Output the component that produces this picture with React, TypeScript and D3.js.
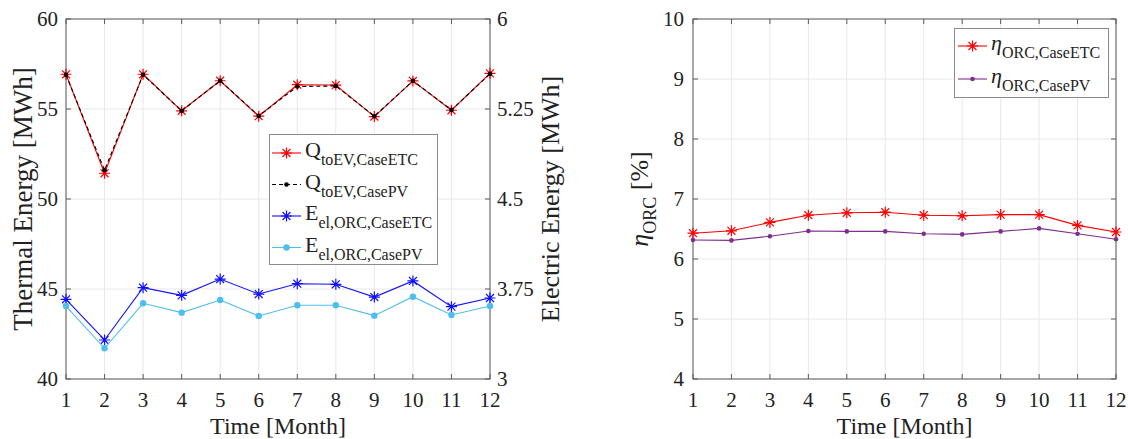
import React from 'react';
import * as d3 from 'd3';

// months on the x axis
const months = [1, 2, 3, 4, 5, 6, 7, 8, 9, 10, 11, 12];

// left panel, thermal energy to evaporator [MWh]
const qEtc = [56.93, 51.43, 56.93, 54.9, 56.57, 54.6, 56.35, 56.33, 54.58, 56.56, 54.93, 56.98];
const qPv = [56.9, 51.6, 56.9, 54.9, 56.57, 54.62, 56.25, 56.28, 54.6, 56.56, 54.95, 56.95];

// left panel, electric energy of the ORC [MWh]
const eEtc = [3.664, 3.325, 3.761, 3.697, 3.833, 3.708, 3.794, 3.789, 3.683, 3.817, 3.603, 3.675];
const ePv = [3.608, 3.256, 3.631, 3.553, 3.658, 3.525, 3.614, 3.614, 3.528, 3.686, 3.533, 3.608];

// right panel, ORC efficiency [%]
const etaEtc = [6.43, 6.47, 6.61, 6.73, 6.77, 6.78, 6.73, 6.72, 6.74, 6.74, 6.56, 6.45];
const etaPv = [6.317, 6.31, 6.38, 6.467, 6.46, 6.46, 6.42, 6.41, 6.46, 6.51, 6.42, 6.33];

const thermalTicks = [40, 45, 50, 55, 60];
const electricTicks = [3, 3.75, 4.5, 5.25, 6];
const etaTicks = [4, 5, 6, 7, 8, 9, 10];

const FONT = 'Liberation Serif';
const AXIS = '#5a5a5a';
const GRID = '#e8e8e8';
const TXT = '#222';

const RED = '#ff0000';
const BLUE = '#1010ff';
const LBLUE = '#4dbeee';
const PURPLE = '#7e2f8e';

// plot areas
const top = 19;
const bottom = 379;
const L = { x0: 66, x1: 490 };
const R = { x0: 693, x1: 1116 };

function Star({ x, y, color, r = 5.5 }: { x: number; y: number; color: string; r?: number }) {
  const d = r * 0.72;
  return (
    <path
      d={`M${x - r},${y}H${x + r}M${x},${y - r}V${y + r}M${x - d},${y - d}L${x + d},${y + d}M${x - d},${y + d}L${x + d},${y - d}`}
      stroke={color}
      strokeWidth={1.2}
      fill="none"
    />
  );
}

function Series({ xs, ys, x, y, color, marker, dash, dotR = 2.6 }: any) {
  const line = d3
    .line<number>()
    .x((_, i) => x(xs[i]))
    .y(d => y(d));
  return (
    <g>
      <path d={line(ys) || ''} fill="none" stroke={color} strokeWidth={1.1} strokeDasharray={dash} />
      {ys.map((v: number, i: number) =>
        marker === 'star' ? (
          <Star key={i} x={x(xs[i])} y={y(v)} color={color} />
        ) : (
          <circle key={i} cx={x(xs[i])} cy={y(v)} r={dotR} fill={color} />
        )
      )}
    </g>
  );
}

function LegendRow({ y, x0, color, marker, dash, main, sub, italic, dotR = 2.6 }: any) {
  const xa = x0 + 3;
  const xb = x0 + 32;
  const xm = (xa + xb) / 2;
  return (
    <g>
      <line x1={xa} x2={xb} y1={y} y2={y} stroke={color} strokeWidth={1.1} strokeDasharray={dash} />
      {marker === 'star' ? <Star x={xm} y={y} color={color} /> : <circle cx={xm} cy={y} r={dotR} fill={color} />}
      <text x={xb + 4} y={y + 4} fontSize={22} fill={TXT} fontFamily={FONT} fontStyle={italic ? 'italic' : 'normal'}>
        {main}
        <tspan fontSize={16} dy={8} fontStyle="normal">
          {sub}
        </tspan>
      </text>
    </g>
  );
}

export default function App() {
  const xL = d3.scaleLinear().domain([1, 12]).range([L.x0, L.x1]);
  const xR = d3.scaleLinear().domain([1, 12]).range([R.x0, R.x1]);
  const yQ = d3.scaleLinear().domain([40, 60]).range([bottom, top]);
  const yE = d3.scaleLinear().domain([3, 6]).range([bottom, top]);
  const yEta = d3.scaleLinear().domain([4, 10]).range([bottom, top]);

  const tick = 5;

  return (
    <div style={{ position: 'absolute', left: 0, top: 0 }}>
      <svg width={1128} height={439} style={{ display: 'block' }} fontFamily={FONT}>
        <rect width={1128} height={439} fill="#fff" />

        {/* ---------- left panel ---------- */}
        <g fontFamily={FONT}>
          {months.map(m => (
            <line key={m} x1={xL(m)} x2={xL(m)} y1={top} y2={bottom} stroke={GRID} />
          ))}
          {thermalTicks.map(t => (
            <line key={t} x1={L.x0} x2={L.x1} y1={yQ(t)} y2={yQ(t)} stroke={GRID} />
          ))}
          <rect x={L.x0} y={top} width={L.x1 - L.x0} height={bottom - top} fill="none" stroke={AXIS} />
          {months.map(m => (
            <g key={m}>
              <line x1={xL(m)} x2={xL(m)} y1={bottom} y2={bottom - tick} stroke={AXIS} />
              <line x1={xL(m)} x2={xL(m)} y1={top} y2={top + tick} stroke={AXIS} />
              <text x={xL(m)} y={407} fontSize={21} textAnchor="middle" fill={TXT}>
                {m}
              </text>
            </g>
          ))}
          {thermalTicks.map(t => (
            <g key={t}>
              <line x1={L.x0} x2={L.x0 + tick} y1={yQ(t)} y2={yQ(t)} stroke={AXIS} />
              <text x={L.x0 - 8} y={yQ(t) + 7} fontSize={21} textAnchor="end" fill={TXT}>
                {t}
              </text>
            </g>
          ))}
          {electricTicks.map(t => (
            <g key={t}>
              <line x1={L.x1} x2={L.x1 - tick} y1={yE(t)} y2={yE(t)} stroke={AXIS} />
              <text x={L.x1 + 7} y={yE(t) + 7} fontSize={21} fill={TXT}>
                {t}
              </text>
            </g>
          ))}

          <Series xs={months} ys={qEtc} x={xL} y={yQ} color={RED} marker="star" />
          <Series xs={months} ys={qPv} x={xL} y={yQ} color="#000" marker="dot" dash="4,3" dotR={2.3} />
          <Series xs={months} ys={eEtc} x={xL} y={yE} color={BLUE} marker="star" />
          <Series xs={months} ys={ePv} x={xL} y={yE} color={LBLUE} marker="dot" dotR={3.2} />

          <text x={278} y={434} fontSize={24} textAnchor="middle" fill={TXT}>
            Time [Month]
          </text>
          <text transform={`translate(32,${(top + bottom) / 2}) rotate(-90)`} fontSize={27} textAnchor="middle" fill={TXT}>
            Thermal Energy [MWh]
          </text>
          <text transform={`translate(559,${(top + bottom) / 2}) rotate(-90)`} fontSize={26} textAnchor="middle" fill={TXT}>
            Electric Energy [MWh]
          </text>

          {/* legend */}
          <rect x={269.5} y={134.5} width={168} height={130} fill="#fff" stroke="#8a8a8a" />
          <LegendRow y={153} x0={269} color={RED} marker="star" main="Q" sub="toEV,CaseETC" />
          <LegendRow y={184.5} x0={269} color="#000" marker="dot" dash="4,3" dotR={2.3} main="Q" sub="toEV,CasePV" />
          <LegendRow y={216} x0={269} color={BLUE} marker="star" main="E" sub="el,ORC,CaseETC" />
          <LegendRow y={247.5} x0={269} color={LBLUE} marker="dot" dotR={3.2} main="E" sub="el,ORC,CasePV" />
        </g>

        {/* ---------- right panel ---------- */}
        <g fontFamily={FONT}>
          {months.map(m => (
            <line key={m} x1={xR(m)} x2={xR(m)} y1={top} y2={bottom} stroke={GRID} />
          ))}
          {etaTicks.map(t => (
            <line key={t} x1={R.x0} x2={R.x1} y1={yEta(t)} y2={yEta(t)} stroke={GRID} />
          ))}
          <rect x={R.x0} y={top} width={R.x1 - R.x0} height={bottom - top} fill="none" stroke={AXIS} />
          {months.map(m => (
            <g key={m}>
              <line x1={xR(m)} x2={xR(m)} y1={bottom} y2={bottom - tick} stroke={AXIS} />
              <line x1={xR(m)} x2={xR(m)} y1={top} y2={top + tick} stroke={AXIS} />
              <text x={xR(m)} y={407} fontSize={21} textAnchor="middle" fill={TXT}>
                {m}
              </text>
            </g>
          ))}
          {etaTicks.map(t => (
            <g key={t}>
              <line x1={R.x0} x2={R.x0 + tick} y1={yEta(t)} y2={yEta(t)} stroke={AXIS} />
              <line x1={R.x1} x2={R.x1 - tick} y1={yEta(t)} y2={yEta(t)} stroke={AXIS} />
              <text x={R.x0 - 9} y={yEta(t) + 7} fontSize={21} textAnchor="end" fill={TXT}>
                {t}
              </text>
            </g>
          ))}

          <Series xs={months} ys={etaEtc} x={xR} y={yEta} color={RED} marker="star" />
          <Series xs={months} ys={etaPv} x={xR} y={yEta} color={PURPLE} marker="dot" dotR={2.3} />

          <text x={(R.x0 + R.x1) / 2} y={434} fontSize={24} textAnchor="middle" fill={TXT}>
            Time [Month]
          </text>
          <text transform={`translate(648,${(top + bottom) / 2}) rotate(-90)`} fontSize={26} textAnchor="middle" fill={TXT}>
            <tspan fontStyle="italic">η</tspan>
            <tspan fontSize={18} dy={8}>ORC</tspan>
            <tspan dy={-8}> [%]</tspan>
          </text>

          {/* legend */}
          <rect x={954.5} y={28.5} width={154} height={69} fill="#fff" stroke="#8a8a8a" />
          <LegendRow y={46} x0={955} color={RED} marker="star" main="η" sub="ORC,CaseETC" italic />
          <LegendRow y={79} x0={955} color={PURPLE} marker="dot" dotR={2.3} main="η" sub="ORC,CasePV" italic />
        </g>
      </svg>
    </div>
  );
}
